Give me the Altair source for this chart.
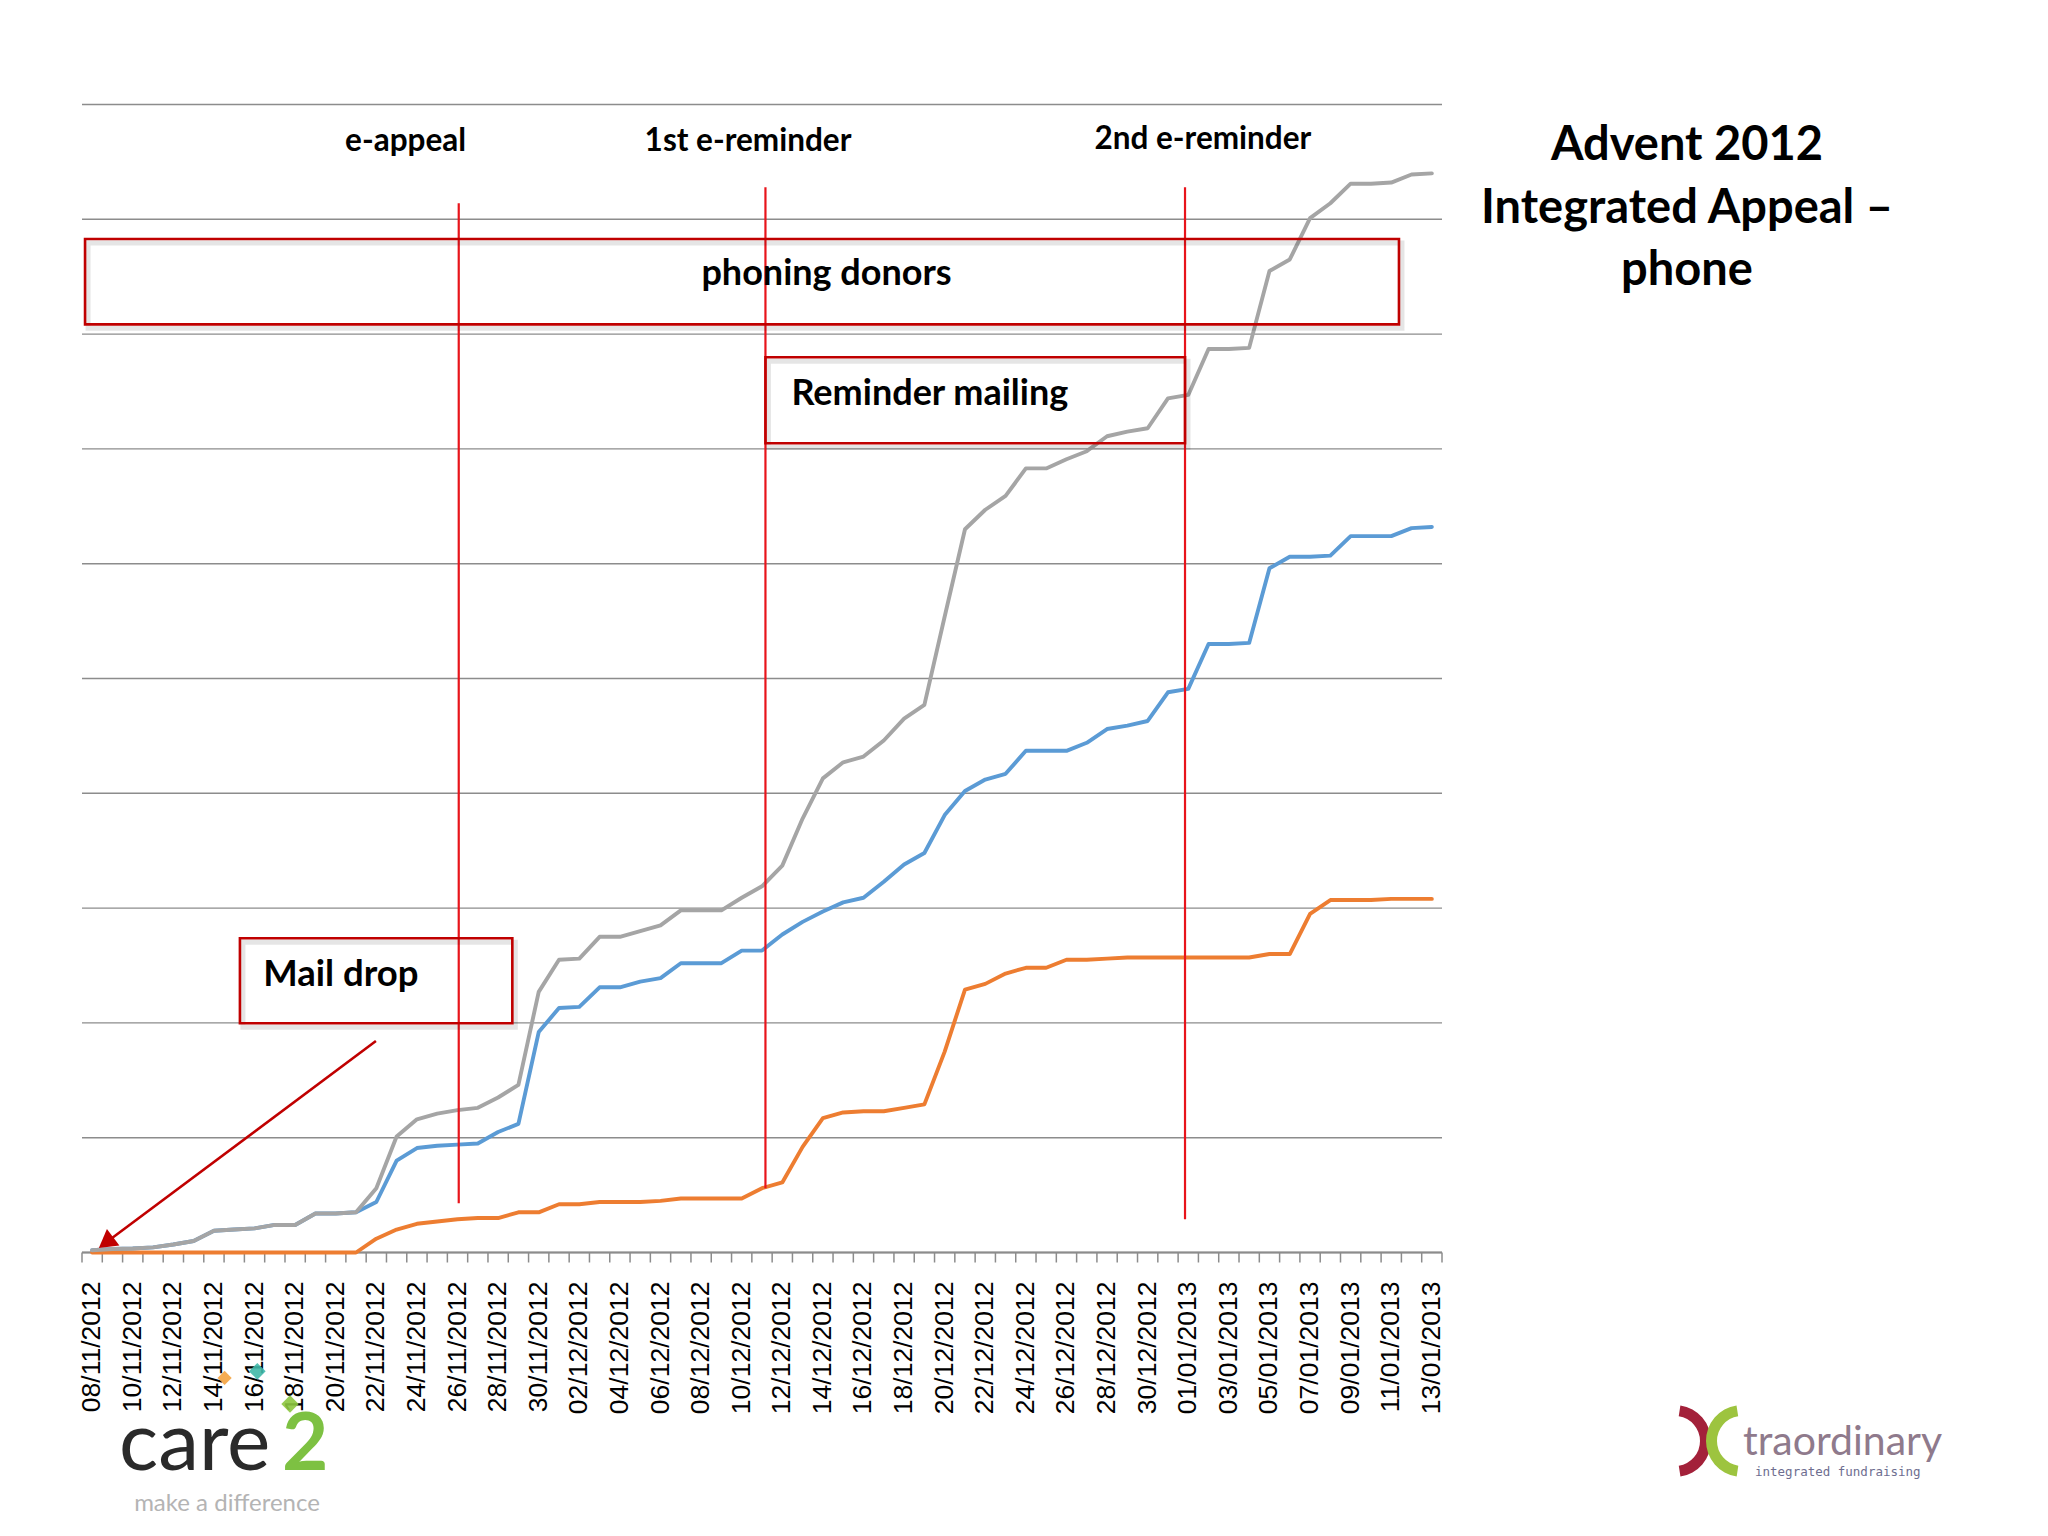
import altair as alt
import pandas as pd

# ---------------- data ----------------
dates = [
    "08/11/2012", "09/11/2012", "10/11/2012", "11/11/2012", "12/11/2012", "13/11/2012",
    "14/11/2012", "15/11/2012", "16/11/2012", "17/11/2012", "18/11/2012", "19/11/2012",
    "20/11/2012", "21/11/2012", "22/11/2012", "23/11/2012", "24/11/2012", "25/11/2012",
    "26/11/2012", "27/11/2012", "28/11/2012", "29/11/2012", "30/11/2012",
    "01/12/2012", "02/12/2012", "03/12/2012", "04/12/2012", "05/12/2012", "06/12/2012",
    "07/12/2012", "08/12/2012", "09/12/2012", "10/12/2012", "11/12/2012", "12/12/2012",
    "13/12/2012", "14/12/2012", "15/12/2012", "16/12/2012", "17/12/2012", "18/12/2012",
    "19/12/2012", "20/12/2012", "21/12/2012", "22/12/2012", "23/12/2012", "24/12/2012",
    "25/12/2012", "26/12/2012", "27/12/2012", "28/12/2012", "29/12/2012", "30/12/2012",
    "31/12/2012",
    "01/01/2013", "02/01/2013", "03/01/2013", "04/01/2013", "05/01/2013", "06/01/2013",
    "07/01/2013", "08/01/2013", "09/01/2013", "10/01/2013", "11/01/2013", "12/01/2013",
    "13/01/2013",
]

blue_vals = [2, 3, 3.5, 4.5, 7, 10, 19, 20, 21, 24, 24, 34, 34, 35,
             44, 80, 91, 93, 94, 95, 105, 112, 192,
             213, 214, 231, 231, 236, 239, 252, 252, 252, 263, 263, 277, 288, 297, 305, 309, 323, 338, 348,
             381,
             402, 412, 417, 437, 437, 437, 444, 456, 459, 463,
             488, 491, 530, 530, 531, 596, 606, 606, 607, 624, 624, 624, 631, 632]

orange_vals = [0, 0, 0, 0, 0, 0, 0, 0, 0, 0, 0, 0, 0, 0,
               12, 20, 25, 27, 29, 30, 30, 35, 35,
               42, 42, 44, 44, 44, 45, 47, 47, 47, 47, 56, 61, 92, 117, 122, 123, 123, 126, 129,
               175,
               229, 234, 243, 248, 248, 255, 255, 256, 257, 257,
               257, 257, 257, 257, 257, 260, 260, 295, 307, 307, 307, 308, 308, 308]

gray_vals = [2, 3, 3.5, 4.5, 7, 10, 19, 20, 21, 24, 24, 34, 34, 35,
             56, 101, 116, 121, 124, 126, 135, 146, 227,
             255, 256, 275, 275, 280, 285, 298, 298, 298, 309, 319, 337, 378, 413, 427, 432, 446, 465, 477,
             554,
             630, 647, 659, 683, 683, 691, 698, 711, 715, 718,
             744, 747, 787, 787, 788, 855, 865, 901, 914, 931, 931, 932, 939, 940]

series_names = ["Series1", "Series2", "Series3"]
series_colors = ["#5B9BD5", "#ED7D31", "#A5A5A5"]

grid_values = [0, 100, 200, 300, 400, 500, 600, 700, 800, 900, 1000]

# annotations (in chart units: x = day index, y = value)
event_names = ["e-appeal", "1st e-reminder", "2nd e-reminder"]
event_x = [18.06, 33.17, 53.84]
event_top = [914, 928, 928]
event_bottom = [43, 56, 29]
event_label_x = [15.44, 32.31, 54.72]
event_label_y = [959.5, 959.5, 961]

box_names = ["phoning donors", "Reminder mailing", "Mail drop"]
box_x1 = [-0.35, 33.17, 7.28]
box_x2 = [64.38, 53.84, 20.7]
box_y1 = [808.5, 704.9, 199.7]
box_y2 = [882.8, 779.8, 273.7]
box_text_x = [36.18, 34.45, 8.43]
box_text_y = [842.8, 738.2, 232.4]

arrow_from = (13.98, 184.2)
arrow_to = (0.80, 10.2)

title_lines = ["Advent 2012", "Integrated Appeal \u2013", "phone"]

# ---------------- build ----------------
W, H = 1360, 1148
GRID = "#8c8c8c"
LINE_RED = "#E8141B"
BOX_RED = "#C00000"

rows = []
for name, vals in zip(series_names, [blue_vals, orange_vals, gray_vals]):
    for i, v in enumerate(vals):
        rows.append({"day": i, "value": v, "series": name})
df = pd.DataFrame(rows)

xs = alt.Scale(domain=[-0.5, len(dates) - 0.5], nice=False, zero=False)
ys = alt.Scale(domain=[0, 1000], nice=False, zero=True)


def X(field):
    return alt.X(field, scale=xs, axis=None)


def Y(field):
    return alt.Y(field, scale=ys, axis=None)


layers = []

# horizontal gridlines
layers.append(alt.Chart(pd.DataFrame({"g": grid_values})).mark_rule(color=GRID, strokeWidth=1.4).encode(
    y=Y("g:Q"), x=alt.value(0), x2=alt.value(W)))
# axis base line
layers.append(alt.Chart(pd.DataFrame({"g": [0]})).mark_rule(color=GRID, strokeWidth=2).encode(
    y=Y("g:Q"), x=alt.value(0), x2=alt.value(W)))
# category boundary ticks along the date axis
tick_df = pd.DataFrame({"b": [i - 0.5 for i in range(len(dates) + 1)]})
layers.append(alt.Chart(tick_df).mark_rule(color=GRID, strokeWidth=1.5).encode(
    x=X("b:Q"), y=alt.value(H), y2=alt.value(H + 10)))
# date labels (every second day)
lab_df = pd.DataFrame({"day": list(range(0, len(dates), 2)),
                       "label": [dates[i] for i in range(0, len(dates), 2)]})
layers.append(alt.Chart(lab_df).mark_text(
    angle=270, align="right", baseline="middle", font="Liberation Sans", fontSize=26.5, color="#000000"
).encode(x=X("day:Q"), y=alt.value(H + 29), text="label:N"))

# the three series
for name, color in zip(series_names, series_colors):
    layers.append(
        alt.Chart(df[df.series == name]).mark_line(
            color=color, strokeWidth=3.9, strokeJoin="round", strokeCap="round"
        ).encode(x=X("day:Q"), y=Y("value:Q"))
    )

# event lines
ev_df = pd.DataFrame({"name": event_names, "x": event_x, "top": event_top, "bottom": event_bottom,
                      "lx": event_label_x, "ly": event_label_y})
layers.append(alt.Chart(ev_df).mark_rule(color=LINE_RED, strokeWidth=2.2).encode(
    x=X("x:Q"), y=Y("top:Q"), y2="bottom:Q"))
layers.append(alt.Chart(ev_df).mark_text(
    font="Lato", fontWeight="bold", fontSize=31.5, baseline="alphabetic", align="center", color="#000000"
).encode(x=X("lx:Q"), y=Y("ly:Q"), text="name:N"))

# boxes with a faint shadow
bx_df = pd.DataFrame({"name": box_names, "x1": box_x1, "x2": box_x2, "y1": box_y1, "y2": box_y2})
layers.append(alt.Chart(bx_df).mark_rect(
    fill="transparent", stroke="#000000", strokeOpacity=0.10, strokeWidth=5,
    xOffset=3, x2Offset=3, yOffset=4, y2Offset=4
).encode(x=X("x1:Q"), x2="x2:Q", y=Y("y1:Q"), y2="y2:Q"))
layers.append(alt.Chart(bx_df).mark_rect(
    fill="transparent", stroke=BOX_RED, strokeWidth=2.6
).encode(x=X("x1:Q"), x2="x2:Q", y=Y("y1:Q"), y2="y2:Q"))

box_text_size = [36, 36, 36.5]
box_text_align = ["center", "left", "left"]
for name, tx, ty, fs, al in zip(box_names, box_text_x, box_text_y, box_text_size, box_text_align):
    layers.append(alt.Chart(pd.DataFrame({"t": [name], "x": [tx], "y": [ty]})).mark_text(
        font="Lato", fontWeight="bold", fontSize=fs, align=al, baseline="alphabetic", color="#000000"
    ).encode(x=X("x:Q"), y=Y("y:Q"), text="t:N"))

# mail drop arrow
ar_df = pd.DataFrame({"x": [arrow_from[0]], "y": [arrow_from[1]], "x2": [arrow_to[0]], "y2": [arrow_to[1]]})
layers.append(alt.Chart(ar_df).mark_rule(color=BOX_RED, strokeWidth=2.6).encode(
    x=X("x:Q"), y=Y("y:Q"), x2="x2:Q", y2="y2:Q"))
layers.append(alt.Chart(ar_df).mark_point(
    shape="triangle", filled=True, size=430, angle=233, color=BOX_RED, opacity=1
).encode(x=X("x2:Q"), y=Y("y2:Q")))

# title at the right
one = pd.DataFrame({"a": [0]})
layers.append(alt.Chart(one).mark_text(
    text=title_lines, font="Lato", fontWeight="bold", fontSize=47, lineHeight=62.5,
    align="center", baseline="alphabetic", color="#000000"
).encode(x=alt.value(1605), y=alt.value(55.5)))

# logos (approximated with text and shapes)
leaf_df = pd.DataFrame({"px": [142.6, 175.3, 208.0], "py": [1273.4, 1266.8, 1299.5],
                        "s": [200, 280, 300],
                        "c": ["#F4A340", "#3FB8A8", "#8CC63F"]})
layers.append(alt.Chart(leaf_df).mark_point(shape="diamond", filled=True, opacity=0.9).encode(
    x=alt.X("px:Q", scale=None, axis=None), y=alt.Y("py:Q", scale=None, axis=None),
    size=alt.Size("s:Q", scale=None, legend=None),
    color=alt.Color("c:N", scale=None)))
layers.append(alt.Chart(one).mark_text(
    text="care", font="Lato", fontSize=82, align="left", baseline="alphabetic", color="#2a2a2a"
).encode(x=alt.value(37), y=alt.value(1365)))
layers.append(alt.Chart(one).mark_text(
    text="2", font="Lato", fontWeight="bold", fontSize=80, align="left", baseline="alphabetic", color="#7DC142"
).encode(x=alt.value(200), y=alt.value(1365)))
layers.append(alt.Chart(one).mark_text(
    text="make a difference", font="Lato", fontSize=24, align="center", baseline="middle", color="#b4b4b4"
).encode(x=alt.value(145), y=alt.value(1399)))

layers.append(alt.Chart(one).mark_arc(
    theta=0.15, theta2=2.99, radius=36, radius2=25, color="#A3213A"
).encode(x=alt.value(1593), y=alt.value(1336.5)))
layers.append(alt.Chart(one).mark_arc(
    theta=3.29, theta2=6.13, radius=36, radius2=25, color="#9DC43F"
).encode(x=alt.value(1660), y=alt.value(1336.5)))
layers.append(alt.Chart(one).mark_text(
    text="traordinary", font="Lato", fontSize=41, align="left", baseline="alphabetic", color="#8F7A8C"
).encode(x=alt.value(1661), y=alt.value(1350.5)))
layers.append(alt.Chart(one).mark_text(
    text="integrated fundraising", font="DejaVu Sans Mono", fontSize=12.5, align="left",
    baseline="middle", color="#6E6E90"
).encode(x=alt.value(1673), y=alt.value(1367)))

chart = alt.layer(*layers).properties(
    width=W, height=H,
    padding={"left": 74, "top": 96.5, "right": 598, "bottom": 276},
    autosize=alt.AutoSizeParams(type="none"),
    background="#ffffff",
).configure_view(stroke="transparent")

chart.save("out.html", embed_options={"renderer": "svg", "actions": False})
